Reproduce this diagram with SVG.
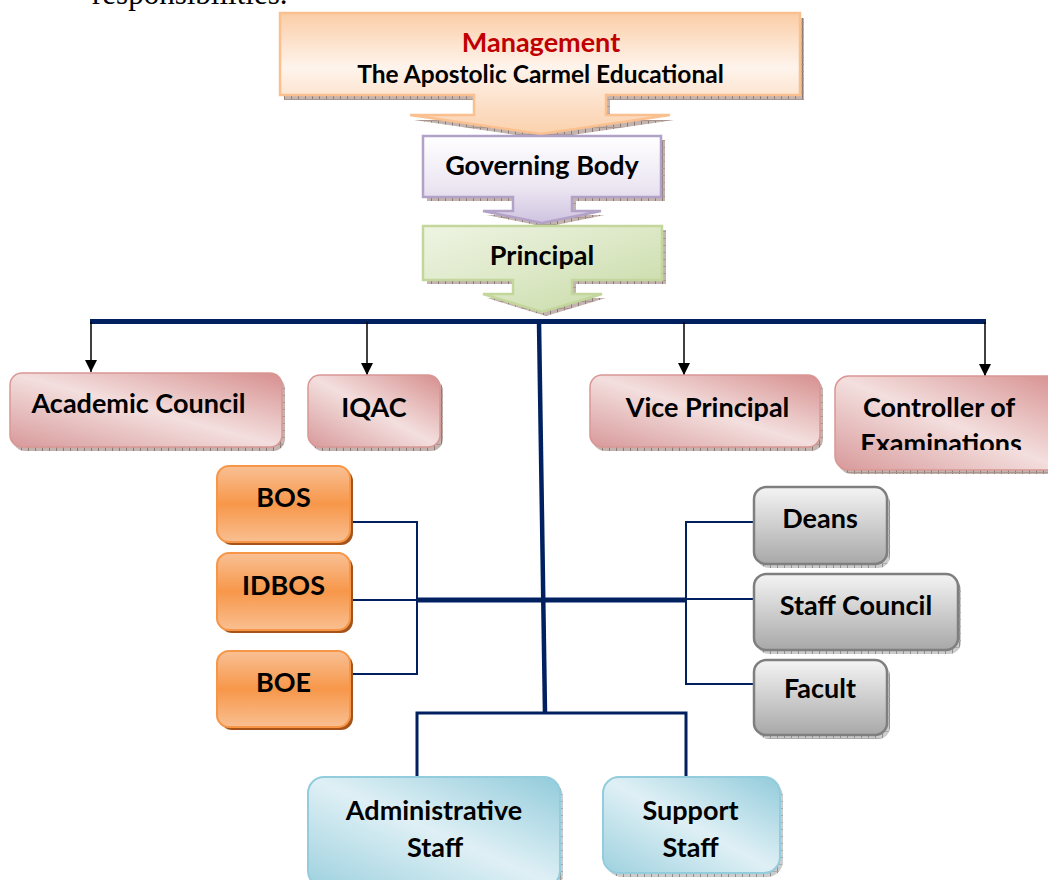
<svg xmlns="http://www.w3.org/2000/svg" width="1048" height="880" viewBox="0 0 1048 880">
<defs>
<style>
.lbl{font-family:Lato,"Open Sans","Liberation Sans",sans-serif;font-weight:bold;font-size:27px;fill:#000;text-anchor:middle}
.pink{fill:url(#gPink);stroke:#d99694;stroke-width:1.5}
.blue{fill:url(#gBlue);stroke:#93cddd;stroke-width:2}
.orange{fill:url(#gOrange);stroke:#f79646;stroke-width:2}
.gray{fill:url(#gGray);stroke:#7f7f7f;stroke-width:2.5}
.shadow{fill:url(#hatch)}
.oshadow{fill:#a5531a}
.navy{stroke:#002060;fill:none}
.arr{stroke:#000;stroke-width:1.5;fill:none;marker-end:url(#ah)}
</style>
<pattern id="hatch" width="7" height="7" patternUnits="userSpaceOnUse">
<rect width="7" height="7" fill="#c4b4b0"/>
<rect x="0" y="0" width="1" height="7" fill="#8c7a74"/>
<rect x="0" y="3" width="7" height="1" fill="#a8968f"/>
</pattern>
<pattern id="hatchG" width="7" height="7" patternUnits="userSpaceOnUse">
<rect width="7" height="7" fill="#cccccc"/>
<rect x="0" y="0" width="1" height="7" fill="#909090"/>
<rect x="0" y="3" width="7" height="1" fill="#aaaaaa"/>
</pattern>
<linearGradient id="gPeach" x1="0" y1="0" x2="0" y2="1">
<stop offset="0" stop-color="#fbcda6"/>
<stop offset="0.45" stop-color="#fef4ec"/>
<stop offset="0.8" stop-color="#fcdcc2"/>
<stop offset="1" stop-color="#fbd2ae"/>
</linearGradient>
<linearGradient id="gLav" x1="0" y1="0" x2="0" y2="1">
<stop offset="0" stop-color="#ffffff"/>
<stop offset="0.6" stop-color="#ebe5f1"/>
<stop offset="1" stop-color="#cfc3e0"/>
</linearGradient>
<linearGradient id="gGreen" x1="0" y1="0" x2="1" y2="1">
<stop offset="0" stop-color="#eef4e3"/>
<stop offset="0.5" stop-color="#dce8c6"/>
<stop offset="1" stop-color="#c6d9a2"/>
</linearGradient>
<linearGradient id="gPink" x1="1" y1="0" x2="0" y2="1">
<stop offset="0" stop-color="#d68f8e"/>
<stop offset="0.5" stop-color="#f3dfde"/>
<stop offset="1" stop-color="#d8999a"/>
</linearGradient>
<linearGradient id="gBlue" x1="1" y1="0" x2="0" y2="1">
<stop offset="0" stop-color="#92cbdb"/>
<stop offset="0.5" stop-color="#dff0f5"/>
<stop offset="1" stop-color="#9ed1df"/>
</linearGradient>
<linearGradient id="gOrange" x1="0" y1="0" x2="0" y2="1">
<stop offset="0" stop-color="#f9c094"/>
<stop offset="0.5" stop-color="#f7974a"/>
<stop offset="1" stop-color="#f9bf91"/>
</linearGradient>
<linearGradient id="gGray" x1="0" y1="0" x2="0" y2="1">
<stop offset="0" stop-color="#f4f4f4"/>
<stop offset="1" stop-color="#a8a8a8"/>
</linearGradient>
<marker id="ah" markerUnits="userSpaceOnUse" markerWidth="12" markerHeight="16" refX="12" refY="6" orient="auto">
<path d="M0,0 L12,6 L0,12 Z" fill="#000"/>
</marker>
<clipPath id="clipCtrl"><rect x="835" y="370" width="220" height="80"/></clipPath>
</defs>

<text x="92" y="4" style="font-family:'Liberation Serif',serif;font-size:31px;fill:#000">responsibilities.</text>

<g id="management">
<path class="shadow" transform="translate(4,5)" d="M280,13 H800 V95 H606 V115 H670 L541,134 L410,115 H474 V95 H280 Z"/>
<path d="M280,13 H800 V95 H606 V115 H670 L541,134 L410,115 H474 V95 H280 Z" fill="url(#gPeach)" stroke="#fac090" stroke-width="2.5"/>
<text x="541" y="52" class="lbl" style="fill:#c00000;font-size:27px">Management</text>
<text x="540.5" y="83" class="lbl" style="font-size:24.5px">The Apostolic Carmel Educational</text>
</g>

<g id="governing">
<path class="shadow" transform="translate(4,4)" d="M423,136 H661 V197 H572 V211 H601 L542,223 L483,211 H513 V197 H423 Z"/>
<path d="M423,136 H661 V197 H572 V211 H601 L542,223 L483,211 H513 V197 H423 Z" fill="url(#gLav)" stroke="#b3a2c7" stroke-width="2.5"/>
<text x="542" y="175" class="lbl">Governing Body</text>
</g>

<g id="principal">
<path class="shadow" transform="translate(4,4)" d="M423,226 H662 V280 H572 V294 H602 L542,312 L483,294 H513 V280 H423 Z"/>
<path d="M423,226 H662 V280 H572 V294 H602 L542,312 L483,294 H513 V280 H423 Z" fill="url(#gGreen)" stroke="#c3d69b" stroke-width="2.5"/>
<text x="542" y="265" class="lbl">Principal</text>
</g>

<g id="connectors">
<rect x="90" y="319" width="896" height="5" fill="#002060"/>
<line class="arr" x1="91" y1="322" x2="91" y2="372"/>
<line class="arr" x1="367" y1="322" x2="367" y2="375"/>
<line class="arr" x1="684" y1="322" x2="684" y2="375"/>
<line class="arr" x1="985" y1="322" x2="985" y2="376"/>
<line class="navy" x1="539" y1="322" x2="545" y2="713" stroke-width="4.5"/>
<line class="navy" x1="416" y1="600" x2="687" y2="600" stroke-width="5"/>
<path class="navy" d="M349,522 H417 V674 H349" stroke-width="2"/>
<line class="navy" x1="349" y1="600" x2="417" y2="600" stroke-width="2"/>
<path class="navy" d="M755,522 H686 V684 H755" stroke-width="2"/>
<line class="navy" x1="686" y1="599" x2="755" y2="599" stroke-width="2"/>
<path class="navy" d="M417,777 V713 H686 V777" stroke-width="3"/>
</g>

<g id="academic-council">
<rect class="shadow" x="13" y="377" width="272" height="74" rx="12"/>
<rect class="pink" x="10" y="373" width="272" height="74" rx="12"/>
<text x="138.5" y="413" class="lbl">Academic Council</text>
</g>

<g id="iqac">
<rect class="shadow" x="311" y="379" width="132" height="72" rx="12"/>
<rect class="pink" x="308" y="375" width="132" height="72" rx="12"/>
<text x="374" y="417" class="lbl">IQAC</text>
</g>

<g id="vice-principal">
<rect class="shadow" x="593" y="379" width="230" height="72" rx="12"/>
<rect class="pink" x="590" y="375" width="230" height="72" rx="12"/>
<text x="707.5" y="417" class="lbl">Vice Principal</text>
</g>

<g id="controller">
<rect class="shadow" x="838" y="380" width="230" height="94" rx="14"/>
<rect class="pink" x="835" y="376" width="230" height="94" rx="14"/>
<g clip-path="url(#clipCtrl)">
<text x="939" y="417" class="lbl">Controller of</text>
<text x="941" y="453" class="lbl">Examinations</text>
</g>
</g>

<g id="bos">
<rect class="oshadow" x="220" y="469" width="133" height="76" rx="12"/>
<rect class="orange" x="217" y="466" width="133" height="76" rx="12"/>
<text x="283.5" y="507" class="lbl">BOS</text>
</g>

<g id="idbos">
<rect class="oshadow" x="220" y="556" width="133" height="77" rx="12"/>
<rect class="orange" x="217" y="553" width="133" height="77" rx="12"/>
<text x="283.5" y="595" class="lbl">IDBOS</text>
</g>

<g id="boe">
<rect class="oshadow" x="220" y="654" width="133" height="76" rx="12"/>
<rect class="orange" x="217" y="651" width="133" height="76" rx="12"/>
<text x="283.5" y="692" class="lbl">BOE</text>
</g>

<g id="deans">
<rect x="757" y="491" width="133" height="77" rx="12" fill="url(#hatchG)"/>
<rect class="gray" x="754" y="487" width="133" height="77" rx="12"/>
<text x="820" y="528" class="lbl">Deans</text>
</g>

<g id="staff-council">
<rect x="757" y="578" width="204" height="76" rx="12" fill="url(#hatchG)"/>
<rect class="gray" x="754" y="574" width="204" height="76" rx="12"/>
<text x="856" y="615" class="lbl">Staff Council</text>
</g>

<g id="facult">
<rect x="757" y="664" width="133" height="75" rx="12" fill="url(#hatchG)"/>
<rect class="gray" x="754" y="660" width="133" height="75" rx="12"/>
<text x="820" y="698" class="lbl">Facult</text>
</g>

<g id="administrative-staff">
<rect x="311" y="781" width="252" height="110" rx="16" fill="url(#hatchG)"/>
<rect class="blue" x="308" y="777" width="252" height="110" rx="16"/>
<text x="434" y="820" class="lbl">Administrative</text>
<text x="435" y="857" class="lbl">Staff</text>
</g>

<g id="support-staff">
<rect x="606" y="781" width="177" height="96" rx="16" fill="url(#hatchG)"/>
<rect class="blue" x="603" y="777" width="177" height="96" rx="16"/>
<text x="690.5" y="820" class="lbl">Support</text>
<text x="690.5" y="857" class="lbl">Staff</text>
</g>
</svg>
